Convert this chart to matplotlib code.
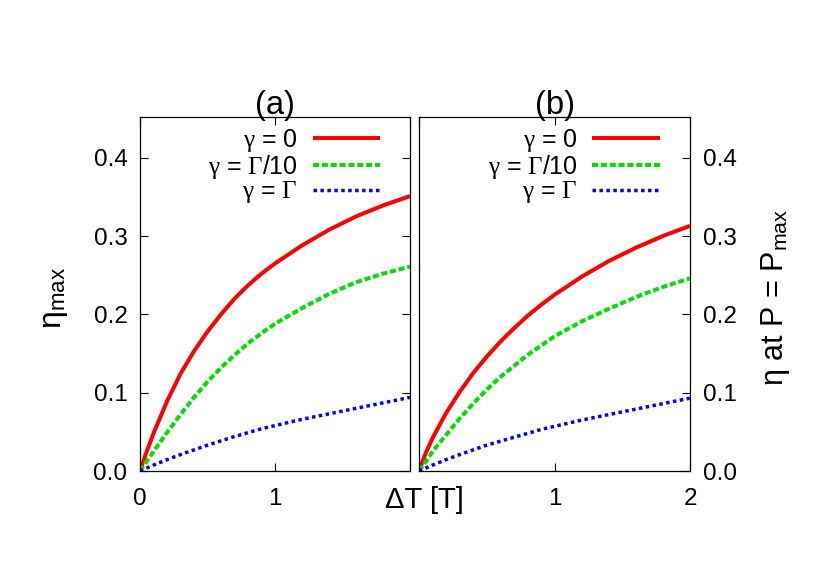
import numpy as np
import matplotlib
matplotlib.use('Agg')
import matplotlib.pyplot as plt

plt.rcParams['font.family'] = ['Liberation Sans', 'DejaVu Sans']
plt.rcParams['mathtext.fontset'] = 'custom'
plt.rcParams['mathtext.it'] = 'Liberation Serif'
plt.rcParams['mathtext.rm'] = 'Liberation Serif'
plt.rcParams['mathtext.sf'] = 'Liberation Sans'

# Data
dT = [0, 0.05, 0.1, 0.2, 0.3, 0.4, 0.5, 0.6, 0.7, 0.8, 0.9, 1.0,
      1.2, 1.4, 1.6, 1.8, 2.0]

# (a) maximum efficiency
eta_max_g0 = [0, 0.025, 0.048, 0.089, 0.124, 0.153, 0.178, 0.200, 0.220, 0.237,
              0.252, 0.265, 0.288, 0.308, 0.325, 0.339, 0.351]
eta_max_g10 = [0, 0.0125, 0.025, 0.049, 0.072, 0.094, 0.114, 0.132, 0.148, 0.163,
               0.176, 0.188, 0.208, 0.226, 0.241, 0.252, 0.261]
eta_max_g1 = [0, 0.0038, 0.0075, 0.0145, 0.021, 0.027, 0.033, 0.0385, 0.044, 0.049,
              0.054, 0.058, 0.066, 0.073, 0.080, 0.087, 0.094]

# (b) efficiency at maximum power
eta_p_g0 = [0, 0.023, 0.042, 0.074, 0.101, 0.125, 0.146, 0.165, 0.182, 0.198,
            0.212, 0.225, 0.248, 0.268, 0.285, 0.300, 0.313]
eta_p_g10 = [0, 0.012, 0.025, 0.046, 0.067, 0.086, 0.104, 0.120, 0.134, 0.148,
             0.160, 0.172, 0.191, 0.207, 0.222, 0.235, 0.246]
eta_p_g1 = [0, 0.0038, 0.0075, 0.0145, 0.021, 0.027, 0.033, 0.038, 0.043, 0.048,
            0.053, 0.057, 0.065, 0.072, 0.079, 0.086, 0.093]

labels = [r'$\gamma$ = 0', r'$\gamma$ = $\Gamma$/10', r'$\gamma$ = $\Gamma$']
colors = ['#ff0000', '#00e000', '#0000ff']
styles = ['-', (0, (1.5, 0.7)), (0, (1, 1))]
widths = [2.9, 2.9, 2.5]

fig = plt.figure(figsize=(8.3, 5.81), dpi=100)
ax1 = fig.add_axes([140 / 830, 110 / 581, 270 / 830, 354 / 581])
ax2 = fig.add_axes([419 / 830, 110 / 581, 271 / 830, 354 / 581])

for ax, series in [(ax1, [eta_max_g0, eta_max_g10, eta_max_g1]),
                   (ax2, [eta_p_g0, eta_p_g10, eta_p_g1])]:
    for y, lab, c, ls, lw in zip(series, labels, colors, styles, widths):
        ax.plot(dT, y, color=c, linestyle=ls, lw=lw, label=lab,
                dash_capstyle='butt', solid_capstyle='butt',
                solid_joinstyle='round')
    ax.set_xlim(0, 2)
    ax.set_ylim(0, 0.452)
    ax.set_yticks([0, 0.1, 0.2, 0.3, 0.4])
    ax.tick_params(direction='in', length=6, width=0.8, labelsize=17.5,
                   top=True)
    ax.tick_params(axis='x', pad=12)
    ax.tick_params(axis='y', pad=9)
    for s in ax.spines.values():
        s.set_linewidth(0.9)
    leg = ax.legend(loc='upper right', bbox_to_anchor=(0.889, 0.972),
                    frameon=False, markerfirst=False, fontsize=18,
                    handlelength=2.7, handletextpad=0.6, labelspacing=-0.05,
                    borderpad=0, borderaxespad=0)

ax1.set_xticks([0, 1, 2])
ax1.set_xticklabels(['0', '1', ''])
ax1.set_yticklabels(['0.0', '0.1', '0.2', '0.3', '0.4'])
ax1.tick_params(right=True)
ax1.set_title('(a)', fontsize=23.5, pad=2)
ax1.set_ylabel(r'η$_{\mathsf{max}}$', fontsize=23)
ax1.yaxis.set_label_coords(-0.259, 0.49)

ax2.set_xticks([0, 1, 2])
ax2.set_xticklabels(['', '1', '2'])
ax2.yaxis.tick_right()
ax2.set_yticklabels(['0.0', '0.1', '0.2', '0.3', '0.4'])
ax2.tick_params(left=False, right=True)
ax2.set_title('(b)', fontsize=23.5, pad=2)
ax2.yaxis.set_label_position('right')
ax2.set_ylabel(r'η at P = P$_{\mathsf{max}}$', fontsize=22, rotation=90)
ax2.yaxis.set_label_coords(1.255, 0.49)

fig.text(424 / 830, 1 - 500 / 581, 'ΔT [T]', fontsize=21, ha='center', va='center')

fig.savefig('out.png', dpi=100)
